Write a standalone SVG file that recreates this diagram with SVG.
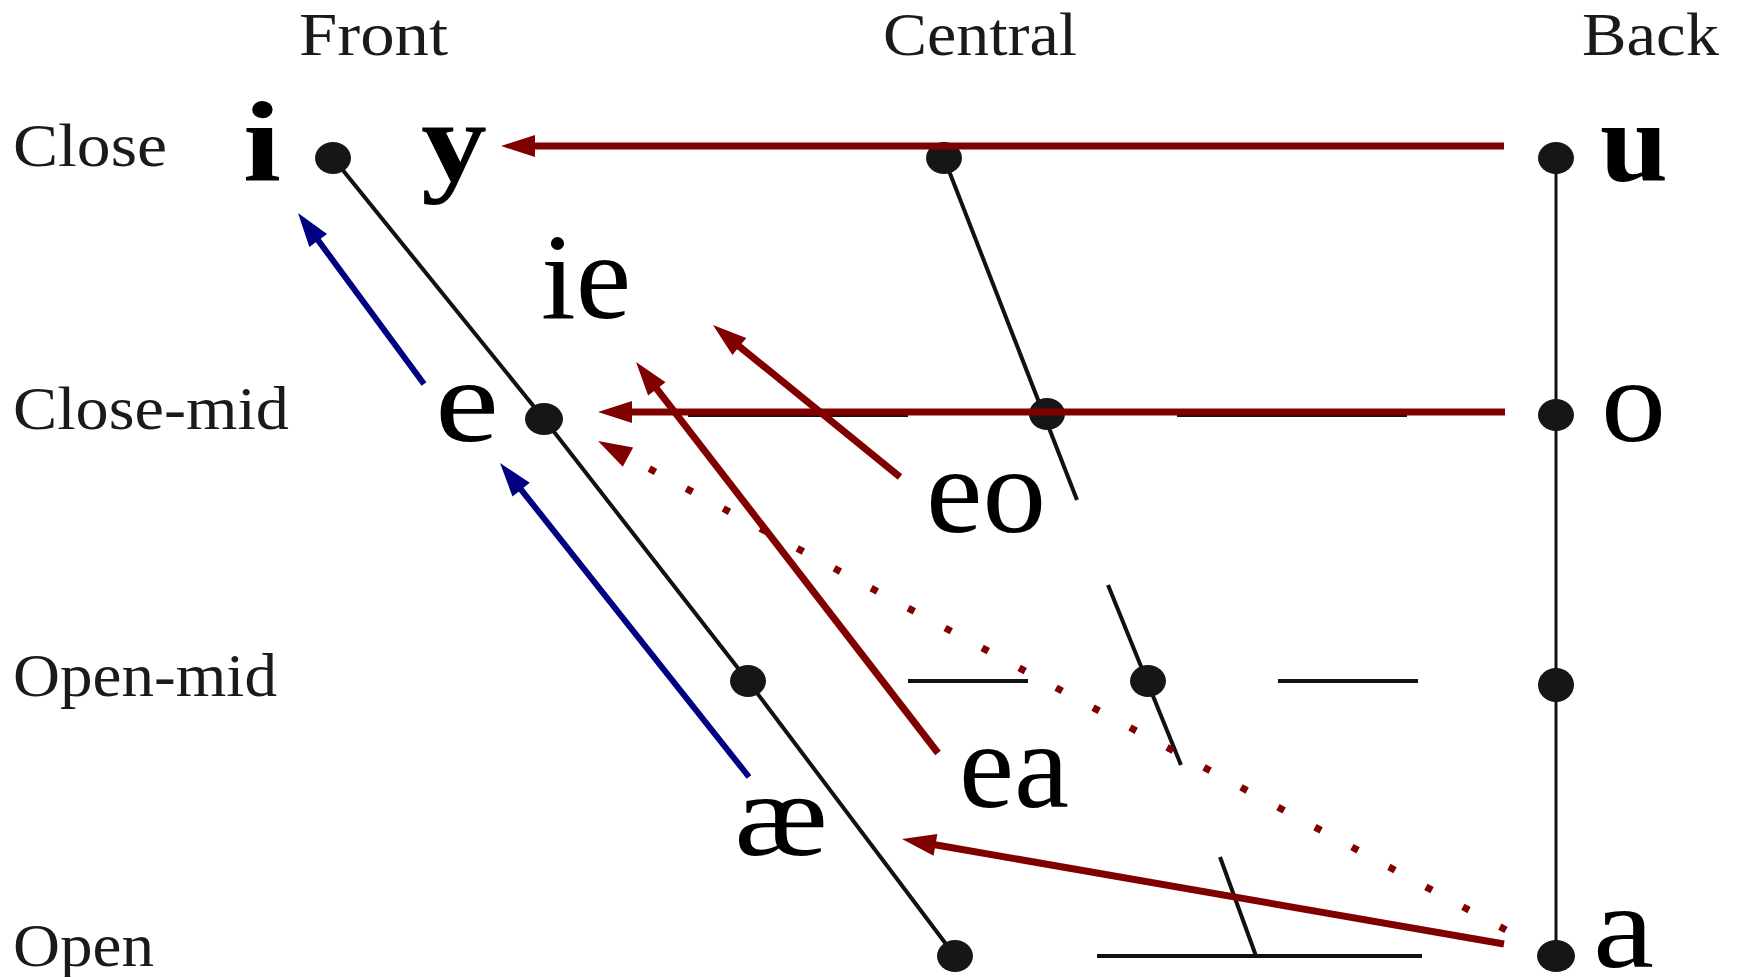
<svg xmlns="http://www.w3.org/2000/svg" width="1737" height="977" viewBox="0 0 1737 977">
<style>
.lbl{font-family:"Liberation Serif","Times New Roman",serif;font-size:62px;fill:#1a1a1a}
.v{font-family:"Liberation Serif","Times New Roman",serif;font-size:118px;fill:#000}
.vb{font-weight:bold;font-size:115px}
.big{font-family:"Liberation Serif","Times New Roman",serif;font-size:122px;fill:#000}
.grid{stroke:#111;stroke-width:4;fill:none}
.back{stroke:#111;stroke-width:3;fill:none}
.dot{fill:#161616}
.red{stroke:#800000;stroke-width:7;fill:none}
.blue{stroke:#000080;stroke-width:6;fill:none}
.dotted{stroke:#800000;stroke-width:7;fill:none;stroke-dasharray:7 35}
</style>
<defs>
<marker id="hr" markerUnits="userSpaceOnUse" orient="auto" markerWidth="40" markerHeight="30" viewBox="-2 -15 40 30" refX="2" refY="0"><path d="M0,-11 L34,0 L0,11 Z" fill="#800000"/></marker>
<marker id="hb" markerUnits="userSpaceOnUse" orient="auto" markerWidth="40" markerHeight="30" viewBox="-2 -15 40 30" refX="2" refY="0"><path d="M0,-11 L34,0 L0,11 Z" fill="#000080"/></marker>
</defs>
<rect width="1737" height="977" fill="#fff"/>
<g id="chart">
<polyline class="grid" points="333,158 544,419 748,681 955,956"/>
<line class="grid" x1="944" y1="158" x2="1077" y2="500"/>
<line class="grid" x1="1108" y1="585" x2="1181" y2="765"/>
<line class="grid" x1="1220" y1="857" x2="1256" y2="956"/>
<line class="back" x1="1556" y1="158" x2="1556" y2="956"/>
<line class="grid" x1="688" y1="415" x2="908" y2="415"/>
<line class="grid" x1="1177" y1="415" x2="1407" y2="415"/>
<line class="grid" x1="908" y1="681" x2="1028" y2="681"/>
<line class="grid" x1="1278" y1="681" x2="1418" y2="681"/>
<line class="grid" x1="1097" y1="956" x2="1422" y2="956"/>
</g>
<g id="headers">
<text class="lbl" x="299" y="55" textLength="149" lengthAdjust="spacingAndGlyphs">Front</text>
<text class="lbl" x="883" y="55" textLength="194" lengthAdjust="spacingAndGlyphs">Central</text>
<text class="lbl" x="1582" y="55" textLength="137" lengthAdjust="spacingAndGlyphs">Back</text>
</g>
<g id="rows">
<text class="lbl" x="13" y="166" textLength="154" lengthAdjust="spacingAndGlyphs">Close</text>
<text class="lbl" x="13" y="429" textLength="276" lengthAdjust="spacingAndGlyphs">Close-mid</text>
<text class="lbl" x="13" y="696" textLength="264" lengthAdjust="spacingAndGlyphs">Open-mid</text>
<text class="lbl" x="13" y="966" textLength="141" lengthAdjust="spacingAndGlyphs">Open</text>
</g>
<g id="n-close-front"><ellipse class="dot" cx="333" cy="158" rx="18" ry="16"/><text class="v vb" x="243" y="181" textLength="38" lengthAdjust="spacingAndGlyphs">i</text><text class="v vb" x="421" y="181" textLength="66" lengthAdjust="spacingAndGlyphs">y</text></g>
<g id="n-close-central"><ellipse class="dot" cx="944" cy="158" rx="18" ry="16"/></g>
<g id="n-close-back"><ellipse class="dot" cx="1556" cy="158" rx="18" ry="16"/><text class="v vb" x="1600" y="181" textLength="68" lengthAdjust="spacingAndGlyphs">u</text></g>
<g id="n-closemid-front"><ellipse class="dot" cx="544" cy="419" rx="19" ry="16"/><text class="v" x="435" y="441" textLength="64" lengthAdjust="spacingAndGlyphs">e</text></g>
<g id="n-closemid-central"><ellipse class="dot" cx="1047" cy="414" rx="18" ry="16"/></g>
<g id="n-closemid-back"><ellipse class="dot" cx="1556" cy="415" rx="18" ry="16"/><text class="v" x="1601" y="441" textLength="65" lengthAdjust="spacingAndGlyphs">o</text></g>
<g id="n-openmid-front"><ellipse class="dot" cx="748" cy="681" rx="18" ry="16"/></g>
<g id="n-openmid-central"><ellipse class="dot" cx="1148" cy="681" rx="18" ry="16"/></g>
<g id="n-openmid-back"><ellipse class="dot" cx="1556" cy="685" rx="18" ry="17"/></g>
<g id="n-open-front"><ellipse class="dot" cx="955" cy="956" rx="18" ry="16"/><text class="v" x="734" y="855" font-size="112" textLength="94" lengthAdjust="spacingAndGlyphs">æ</text></g>
<g id="n-open-back"><ellipse class="dot" cx="1556" cy="956" rx="19" ry="16"/><text class="v" x="1593" y="967" font-size="106" textLength="61" lengthAdjust="spacingAndGlyphs">a</text></g>
<g id="n-ie"><text class="big" x="541" y="318" textLength="90" lengthAdjust="spacingAndGlyphs">ie</text></g>
<g id="n-eo"><text class="big" x="926" y="532" textLength="120" lengthAdjust="spacingAndGlyphs">eo</text></g>
<g id="n-ea"><text class="big" x="959" y="807" textLength="110" lengthAdjust="spacingAndGlyphs">ea</text></g>
<g id="connectors">
<line class="red" x1="1504" y1="146" x2="533" y2="146" marker-end="url(#hr)"/>
<line class="red" x1="1505" y1="412" x2="630" y2="412" marker-end="url(#hr)"/>
<line class="red" x1="900" y1="477" x2="737.8" y2="345.2" marker-end="url(#hr)"/>
<line class="red" x1="938" y1="753" x2="655.6" y2="387.3" marker-end="url(#hr)"/>
<line class="dotted" x1="1506" y1="930" x2="626.2" y2="456.2" marker-end="url(#hr)"/>
<line class="red" x1="1504" y1="944" x2="933.5" y2="844.5" marker-end="url(#hr)"/>
<line class="blue" x1="424" y1="384" x2="317" y2="238.8" marker-end="url(#hb)"/>
<line class="blue" x1="749" y1="777" x2="519.9" y2="488.1" marker-end="url(#hb)"/>
</g>
</svg>
